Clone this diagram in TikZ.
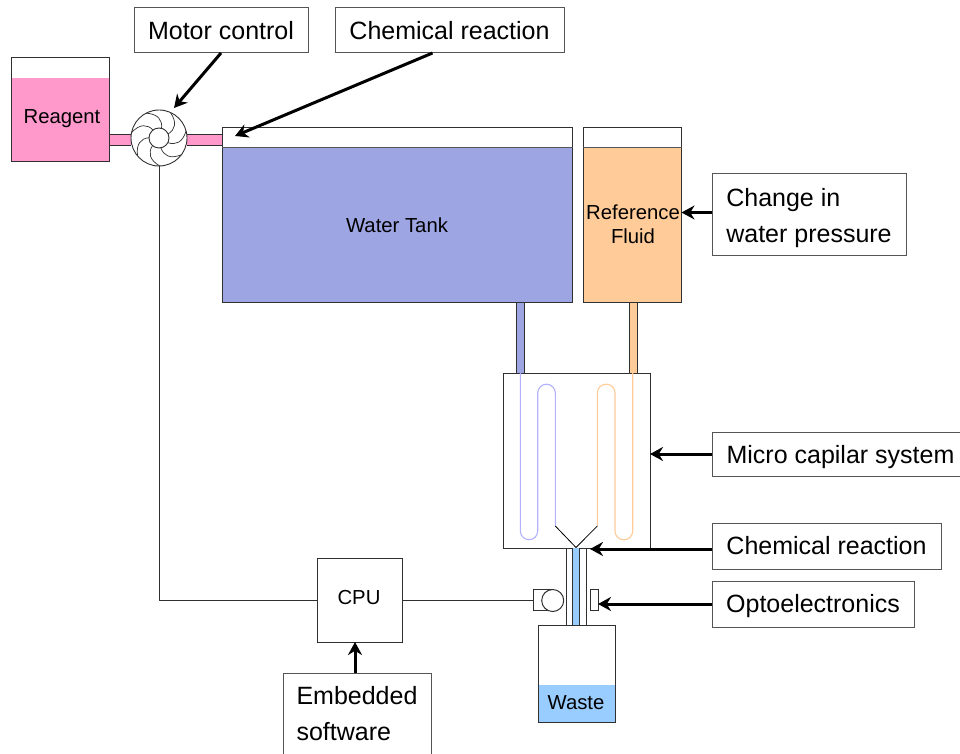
\documentclass[tikz,border=0pt]{standalone}
\usepackage{fontspec}
\setmainfont{Liberation Sans}
\usetikzlibrary{arrows.meta,calc}
\definecolor{pinkf}{HTML}{FF99CC}
\definecolor{bluef}{HTML}{9DA5E3}
\definecolor{orangef}{HTML}{FFCC99}
\definecolor{wastef}{HTML}{99CCFF}
\definecolor{lineg}{HTML}{303030}
\definecolor{boxg}{HTML}{555555}
\tikzset{
  x=1pt,y=-1pt,
  callout/.style={draw=boxg,line width=1pt,fill=white,inner sep=0pt,outer sep=0pt,font=\fontsize{25}{36}\selectfont,align=left},
  vessel/.style={draw=lineg,line width=1pt,fill=white,inner sep=0pt,outer sep=0pt},
  small/.style={font=\fontsize{20.3}{24}\selectfont,inner sep=0pt,align=center,text=black},
  wire/.style={draw=lineg,line width=1pt},
  bigarrow/.style={draw=black,line width=3pt,-{Stealth[length=13pt,width=14pt]}},
  pipe/.style={draw=lineg,line width=0.8pt},
  thinblue/.style={draw=blue!30!white,line width=1.1pt},
  thinorange/.style={draw=orangef,line width=1.1pt},
}
\newcommand{\boxnode}[7]{\node[#1,minimum width=#5pt-#3pt,minimum height=#6pt-#4pt] (#2) at ({(#3+#5)/2},{(#4+#6)/2}) {#7};}
\newcommand{\pushdown}[1]{\rule{0pt}{#1pt}}
\begin{document}
\begin{tikzpicture}
\useasboundingbox (0,0) rectangle (960,754);
% pipes
\fill[pinkf] (110,134) rectangle (222,145);
\draw[pipe] (110,134) -- (131,134) (110,145) -- (131,145) (187,134) -- (222,134) (187,145) -- (222,145);
\draw[pipe,fill=bluef] (516,302) rectangle (524,373);
\draw[pipe,fill=orangef] (629,302) rectangle (637,373);
% vessels
\boxnode{vessel}{reagent}{11}{57.5}{109.5}{162}{}
\fill[pinkf] (11,78) rectangle (109.5,162);
\draw[lineg,line width=1pt] (11,57.5) rectangle (109.5,162);
\node[small] (reagentlabel) at (62,119) {Reagent};
\boxnode{vessel}{tank}{222}{127.5}{572.5}{302}{}
\fill[bluef] (222,148) rectangle (572.5,302);
\draw[lineg,line width=1pt] (222,127.5) rectangle (572.5,302);
\draw[boxg,line width=1pt] (222,148) -- (572.5,148);
\node[small] (tanklabel) at (397,225) {Water Tank};
\boxnode{vessel}{ref}{583}{127.5}{681.5}{302}{}
\fill[orangef] (583,148) rectangle (681.5,302);
\draw[lineg,line width=1pt] (583,127.5) rectangle (681.5,302);
\draw[boxg,line width=1pt] (583,148) -- (681.5,148);
\node[small] (reflabel) at (633,224) {Reference\\Fluid};
% fan
\begin{scope}[shift={(159,138)}]
\draw[lineg,line width=0.9pt,fill=white] (0,0) circle (28);
\foreach \a in {24,75.4,126.9,178.3,229.7,281.1,332.6}{
  \draw[lineg,line width=0.7pt] (-\a:10) .. controls (-\a-3:18) and (-\a-16:24) .. (-\a-42:28);
}
\draw[lineg,line width=0.9pt,fill=white] (0,0) circle (10);
\end{scope}
\coordinate (fan) at (159,138);
\coordinate (fanbottom) at (159,166);
% micro box
\boxnode{vessel}{micro}{503}{373}{650}{548}{}
\draw[thinblue] (520.3,373) -- (520.3,531) arc[start angle=180,end angle=0,radius=8.7] -- (537.7,393) arc[start angle=180,end angle=360,radius=8.8] -- (555.3,526);
\draw[thinorange] (597.3,526) -- (597.3,393) arc[start angle=180,end angle=360,radius=8.85] -- (615,531) arc[start angle=180,end angle=0,radius=8.85] -- (632.7,373);
\draw[black,line width=0.8pt] (555.3,526) -- (576,547.5) -- (597.3,526);
% outlet
\fill[wastef] (572.7,548) rectangle (579.5,625);
\draw[pipe] (566,548) -- (566,625) (572.7,548) -- (572.7,625) (579.5,548) -- (579.5,625) (586.7,548) -- (586.7,625);
% waste
\boxnode{vessel}{waste}{538}{625}{615}{722}{}
\fill[wastef] (538,685) rectangle (615,722);
\draw[lineg,line width=1pt] (538,625) rectangle (615,722);
\node[small] (wastelabel) at (576,703) {Waste};
% opto
\draw[lineg,line width=1pt,fill=white] (533.3,589.5) rectangle (553,610.7);
\draw[lineg,line width=1pt,fill=white] (552.7,600.5) circle (11);
\coordinate (det) at (533.3,601);
\boxnode{vessel}{sensor}{590.7}{589.5}{598}{610.7}{}
% cpu
\boxnode{vessel}{cpu}{317}{558}{402}{642}{}
\node[small] (cpulabel) at (359,598) {CPU};
\draw[wire] (fanbottom) |- (cpu.west);
\draw[wire] (cpu.east) -- (cpu.east -| det);
% callouts
\boxnode{callout}{motor}{134}{8}{308}{53}{Motor control}
\boxnode{callout}{chemtop}{335}{8}{564}{53}{Chemical reaction}
\boxnode{callout}{pressure}{712}{174}{906}{255}{\pushdown{24.2}Change in\\water pressure}
\boxnode{callout}{capilar}{712}{432}{960}{476}{\pushdown{24.2}\hspace*{9pt}Micro capilar system}
\boxnode{callout}{chemlow}{712}{523}{941}{569}{Chemical reaction}
\boxnode{callout}{optoe}{712}{581}{914}{627}{\pushdown{22.2}Optoelectronics}
\boxnode{callout}{soft}{283}{673}{431}{754}{\pushdown{19}Embedded\\software}
% arrows
\draw[bigarrow] (motor.south) -- (174,108);
\draw[bigarrow] ($(chemtop.south)+(-17,0)$) -- (235,136);
\draw[bigarrow] ($(pressure.west)+(0,-2)$) -- ($(pressure.west -| ref.east)+(0,-2)$);
\draw[bigarrow] (capilar.west) -- (capilar.west -| micro.east);
\draw[bigarrow] ($(chemlow.west)+(0,3)$) -- ($(chemlow.west)+(-122,3)$);
\draw[bigarrow] (optoe.west) -- (optoe.west -| sensor.east);
\draw[bigarrow] ($(soft.north)+(-2,0)$) -- ($(cpu.south)+(-4.5,0)$);
\end{tikzpicture}
\end{document}
